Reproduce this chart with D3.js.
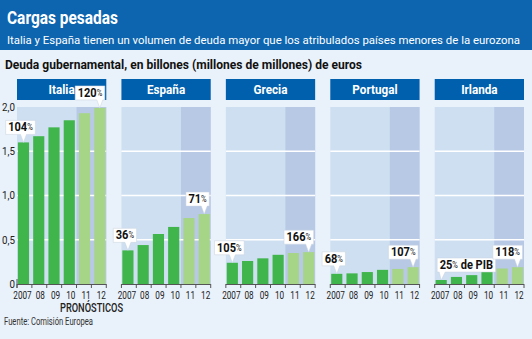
<!DOCTYPE html>
<html>
<head>
<meta charset="utf-8">
<script src="https://d3js.org/d3.v7.min.js"></script>
<style>
  body { margin: 0; background: #e9f1fa; }
  svg { display: block; font-family: Roboto, "Noto Sans", sans-serif; }
</style>
</head>
<body>
<svg width="532" height="339"></svg>
<script>
// data: government debt, trillions of euros
const years = ['2007', '08', '09', '10', '11', '12'];
const countries = ['Italia', 'España', 'Grecia', 'Portugal', 'Irlanda'];
const italia = [1.60, 1.67, 1.77, 1.85, 1.93, 1.99];
const espana = [0.38, 0.44, 0.565, 0.645, 0.745, 0.79];
const grecia = [0.24, 0.26, 0.29, 0.33, 0.35, 0.36];
const portugal = [0.115, 0.12, 0.135, 0.16, 0.17, 0.19];
const irlanda = [0.045, 0.08, 0.10, 0.145, 0.175, 0.19];
const series = [italia, espana, grecia, portugal, irlanda];
const forecastYears = ['11', '12'];
const yTicks = [0, 0.5, 1.0, 1.5, 2.0];
// callouts: % of GDP for first and last year
const firstPct = ['104', '36', '105', '68', '25'];
const lastPct = ['120', '71', '166', '107', '118'];

const svg = d3.select('svg');
const W = 532;

// squeeze a text horizontally (condensed look)
function narrow(sel, sx) {
  const xx = +sel.attr('x'), yy = +sel.attr('y');
  sel.attr('transform', 'translate(' + xx + ',' + yy + ') scale(' + sx + ',1) translate(' + (-xx) + ',' + (-yy) + ')');
  return sel;
}

// header band
svg.append('rect').attr('x', 0).attr('y', 0).attr('width', W).attr('height', 50).attr('fill', '#0d65b0');
svg.append('text').attr('x', 7).attr('y', 24)
  .attr('fill', 'white').style('font-size', '19px').style('font-weight', 'bold')
  .attr('textLength', 111).attr('lengthAdjust', 'spacingAndGlyphs')
  .text('Cargas pesadas');
svg.append('text').attr('x', 7).attr('y', 44)
  .attr('fill', 'white').style('font-size', '11px')
  .attr('textLength', 513).attr('lengthAdjust', 'spacingAndGlyphs')
  .text('Italia y España tienen un volumen de deuda  mayor que los atribulados países menores de la eurozona');

svg.append('text').attr('x', 5).attr('y', 69)
  .attr('fill', '#111').style('font-size', '12px').style('font-weight', 'bold')
  .attr('textLength', 357).attr('lengthAdjust', 'spacingAndGlyphs')
  .text('Deuda gubernamental, en billones (millones de millones) de euros');

// shared y scale
const y = d3.scaleLinear().domain([0, 2]).range([284, 107]);

// panel positions
const px = d3.scaleBand().domain(countries).range([17, 524]).paddingInner(0.145);

countries.forEach(function(c, ci) {
  const vals = series[ci];
  const x0 = px(c);
  const x = d3.scaleBand().domain(years).range([x0, x0 + px.bandwidth()]).paddingInner(0.27).paddingOuter(0.06);
  const xb = d3.scaleBand().domain(years).range([x0, x0 + px.bandwidth()]);
  const g = svg.append('g');

  // header box
  g.append('rect').attr('x', x0).attr('y', 79).attr('width', px.bandwidth()).attr('height', 21).attr('fill', '#0060ad');
  narrow(g.append('text').attr('x', x0 + px.bandwidth() / 2).attr('y', 94)
    .attr('text-anchor', 'middle').attr('fill', 'white')
    .style('font-size', '13px').style('font-weight', 'bold').text(c), 0.9);

  // plot background
  g.append('rect').attr('x', x0).attr('y', y(2)).attr('width', px.bandwidth()).attr('height', y(0) - y(2)).attr('fill', '#cedff2');
  g.append('rect').attr('x', xb(forecastYears[0])).attr('y', y(2))
    .attr('width', x0 + px.bandwidth() - xb(forecastYears[0])).attr('height', y(0) - y(2)).attr('fill', '#b8c9e6');

  // grid lines
  g.selectAll('.grid').data(yTicks.slice(1, 4)).enter().append('line')
    .attr('x1', x0).attr('x2', x0 + px.bandwidth())
    .attr('y1', d => y(d)).attr('y2', d => y(d))
    .attr('stroke', 'white').attr('stroke-width', 1.5);

  // bars
  g.selectAll('.bar').data(vals).enter().append('rect')
    .attr('x', (d, i) => x(years[i]))
    .attr('y', d => y(d))
    .attr('width', x.bandwidth())
    .attr('height', d => y(0) - y(d))
    .attr('fill', (d, i) => forecastYears.includes(years[i]) ? '#a6d587' : '#3fb54b');

  // x axis
  g.append('line').attr('x1', x0).attr('x2', x0 + px.bandwidth())
    .attr('y1', y(0) + 0.5).attr('y2', y(0) + 0.5).attr('stroke', '#555').attr('stroke-width', 1);
  const ticks = years.map(yr => xb(yr)).concat([x0 + px.bandwidth()]);
  g.selectAll('.tick').data(ticks).enter().append('line')
    .attr('x1', d => d).attr('x2', d => d)
    .attr('y1', y(0)).attr('y2', y(0) + 4).attr('stroke', '#555');
  g.selectAll('.xl').data(years).enter().append('text')
    .attr('x', (d, i) => x(d) + x.bandwidth() / 2 + (i === 0 ? -1 : 1.5)).attr('y', 299)
    .attr('text-anchor', 'middle').attr('fill', '#222').style('font-size', '10.5px')
    .text(d => d)
    .each(function() { narrow(d3.select(this), 0.78); });

  // callouts
  const items = [
    { i: 0, label: firstPct[ci], extra: ci === 4 ? ' de PIB' : '' },
    { i: 5, label: lastPct[ci], extra: '' }
  ];
  items.forEach(function(it) {
    const cx = x(years[it.i]) + x.bandwidth() / 2;
    const top = y(vals[it.i]);
    const t = g.append('text').attr('y', top - 11).style('font-size', '13px').style('font-weight', 'bold').attr('fill', '#111');
    t.append('tspan').text(it.label);
    t.append('tspan').style('font-size', '9px').style('font-weight', 'normal').attr('dy', -1).text('%');
    if (it.extra) t.append('tspan').attr('dy', 1).text(it.extra);
    const sx = 0.85;
    const tw = t.node().getComputedTextLength() * sx;
    const bw = tw + 5;
    let bx;
    if (it.extra) bx = cx - 4;
    else if (it.i === 0) bx = cx - bw / 2 - 3;
    else bx = cx - bw + 5;
    t.attr('x', bx + 2.5);
    narrow(t, sx);
    const by = top - 22;
    const bh = 14;
    const pin = it.extra ? [[bx + 2, by + bh], [bx + 8, by + bh], [cx, top]] : [[cx - 3, by + bh], [cx + 3, by + bh], [cx, top]];
    g.insert('path', () => t.node())
      .attr('d', 'M' + bx + ',' + by + 'h' + bw + 'v' + bh + 'H' + pin[1][0] + 'L' + pin[2][0] + ',' + pin[2][1] + 'L' + pin[0][0] + ',' + pin[0][1] + 'H' + bx + 'Z')
      .attr('fill', 'white').attr('stroke', '#c9d3dd').attr('stroke-width', 0.5);
  });
});

// y axis labels
svg.selectAll('.yl').data(yTicks).enter().append('text')
  .attr('x', 15).attr('y', d => y(d) + 4)
  .attr('text-anchor', 'end').attr('fill', '#222').style('font-size', '11.5px')
  .text(d => d === 0 ? '0' : d.toFixed(1).replace('.', ','))
  .each(function() { narrow(d3.select(this), 0.85); });
svg.append('line').attr('x1', 17).attr('x2', 17).attr('y1', y(0) - 5).attr('y2', y(0) + 4).attr('stroke', '#555');

svg.append('text').attr('x', 60).attr('y', 312)
  .attr('fill', '#222').style('font-size', '12.5px').style('font-weight', '500')
  .attr('textLength', 63).attr('lengthAdjust', 'spacingAndGlyphs')
  .text('PRONÓSTICOS');

svg.append('text').attr('x', 4).attr('y', 325)
  .attr('fill', '#333').style('font-size', '10px')
  .attr('textLength', 89).attr('lengthAdjust', 'spacingAndGlyphs')
  .text('Fuente: Comisión Europea');
</script>
</body>
</html>
